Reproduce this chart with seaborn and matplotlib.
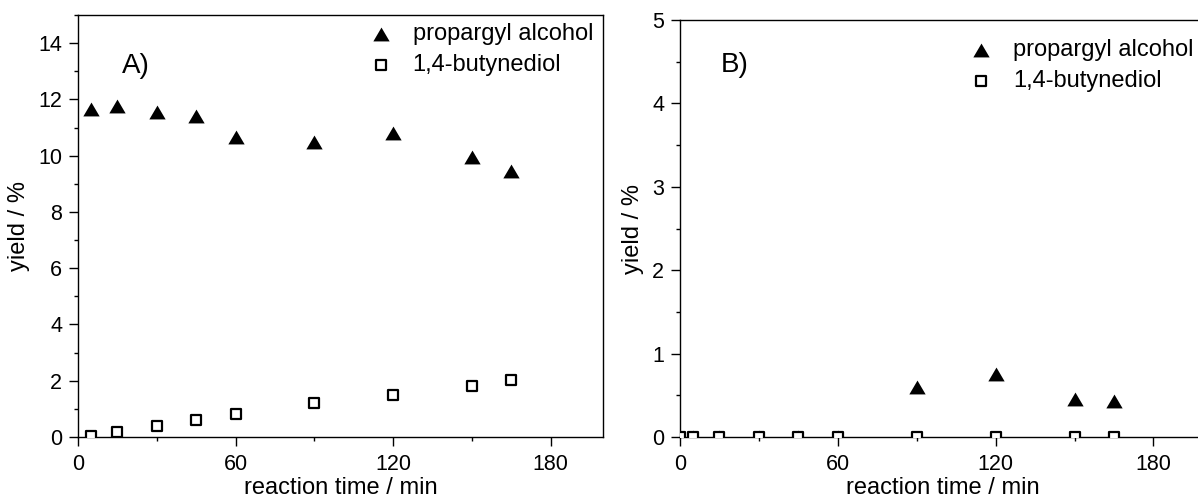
import matplotlib
matplotlib.use("Agg")
import matplotlib.pyplot as plt
from matplotlib.path import Path
from matplotlib.ticker import MultipleLocator
import seaborn as sns

# Panel A: yields over reaction time
time_a = [5, 15, 30, 45, 60, 90, 120, 150, 165]
propargyl_a = [11.65, 11.75, 11.55, 11.4, 10.65, 10.5, 10.8, 9.95, 9.45]
butynediol_a = [0.05, 0.18, 0.38, 0.6, 0.8, 1.2, 1.5, 1.8, 2.02]

# Panel B: yields over reaction time
time_b = [0, 5, 15, 30, 45, 60, 90, 120, 150, 165]
propargyl_b = [0, 0, 0, 0, 0, 0, 0.6, 0.76, 0.46, 0.43]
butynediol_b = [0, 0, 0, 0, 0, 0, 0, 0, 0, 0]

series_labels = ["propargyl alcohol", "1,4-butynediol"]
panel_labels = ["A)", "B)"]
x_ticks = [0, 60, 120, 180]

sns.set_theme(style="ticks")
plt.rcParams["font.family"] = ["Liberation Sans", "DejaVu Sans"]
plt.rcParams["text.color"] = "black"
plt.rcParams["axes.labelcolor"] = "black"

# slightly flattened filled triangle
tri = Path([(-1, -0.85), (1, -0.85), (0, 0.85), (-1, -0.85)],
           [Path.MOVETO, Path.LINETO, Path.LINETO, Path.CLOSEPOLY])

fig = plt.figure(figsize=(11.98, 4.97), dpi=100)
ax_a = fig.add_axes([78 / 1198, 60 / 497, 525 / 1198, 422 / 497])
ax_b = fig.add_axes([680 / 1198, 60 / 497, 526 / 1198, 417 / 497])


def draw(ax, t, prop, but, ymax, ymajor, yminor, label, legend_anchor, label_pos):
    sns.scatterplot(x=t, y=prop, ax=ax, marker=tri, s=138, color="black",
                    linewidth=0, zorder=3)
    sns.scatterplot(x=t, y=but, ax=ax, marker="s", s=46, color="white",
                    edgecolor="black", linewidth=1.6, zorder=4)
    ax.set_xlim(0, 200)
    ax.set_ylim(0, ymax)
    ax.set_xticks(x_ticks)
    ax.xaxis.set_minor_locator(MultipleLocator(30))
    ax.yaxis.set_major_locator(MultipleLocator(ymajor))
    ax.yaxis.set_minor_locator(MultipleLocator(yminor))
    ax.tick_params(which="major", direction="out", length=6.5, width=1,
                   labelsize=15.5, color="black", labelcolor="black")
    ax.tick_params(which="minor", direction="out", length=3.2, width=1,
                   color="black")
    ax.tick_params(axis="x", which="major", pad=6)
    ax.tick_params(axis="y", which="major", pad=5)
    for sp in ax.spines.values():
        sp.set_visible(True)
        sp.set_linewidth(1.0)
        sp.set_color("black")
    ax.set_xlabel("reaction time / min", fontsize=17, labelpad=1)
    ax.set_ylabel("yield / %", fontsize=17, labelpad=6)
    ax.text(label_pos[0], label_pos[1], label, transform=ax.transAxes,
            fontsize=20, ha="left", va="center")
    handles = [ax.collections[0], ax.collections[1]]
    ax.legend(handles=handles, labels=series_labels, loc="upper left",
              bbox_to_anchor=legend_anchor, frameon=False, fontsize=17,
              handlelength=1.0, handletextpad=0.85, labelspacing=0.38,
              borderpad=0, borderaxespad=0, scatterpoints=1)


draw(ax_a, time_a, propargyl_a, butynediol_a, 15, 2, 1, panel_labels[0],
     (0.554, 0.98), (0.084, 0.88))
draw(ax_b, time_b, propargyl_b, butynediol_b, 5, 1, 0.5, panel_labels[1],
     (0.55, 0.955), (0.078, 0.892))

fig.savefig("out.png", dpi=100)
